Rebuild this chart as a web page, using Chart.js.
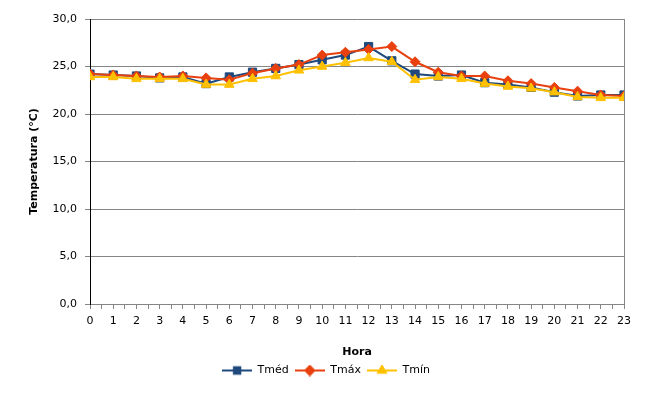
<!DOCTYPE html>
<html lang="pt-BR">
<head>
  <meta charset="utf-8">
  <title>Temperatura por hora</title>
  <script src="https://cdn.jsdelivr.net/npm/chart.js@4.4.1/dist/chart.umd.min.js"></script>
  <style>
    html, body { margin: 0; padding: 0; background: #fff; }
    #holder { width: 666px; height: 403px; }
  </style>
</head>
<body>
  <div id="holder">
    <canvas id="chart" width="666" height="403"></canvas>
  </div>
<script>
  // dados
  var horas = [0, 1, 2, 3, 4, 5, 6, 7, 8, 9, 10, 11, 12, 13, 14, 15, 16, 17, 18, 19, 20, 21, 22, 23];
  var tMed = [24.2, 24.1, 24.0, 23.8, 23.9, 23.2, 23.9, 24.4, 24.8, 25.2, 25.7, 26.2, 27.1, 25.6, 24.2, 24.0, 24.1, 23.3, 23.1, 22.8, 22.3, 21.9, 22.0, 22.0];
  var tMax = [24.2, 24.1, 24.0, 23.9, 24.0, 23.8, 23.6, 24.3, 24.8, 25.2, 26.2, 26.5, 26.8, 27.1, 25.5, 24.4, 24.0, 24.0, 23.5, 23.2, 22.8, 22.4, 22.0, 21.9];
  var tMin = [23.9, 23.9, 23.7, 23.7, 23.7, 23.1, 23.1, 23.7, 24.0, 24.6, 25.0, 25.4, 25.9, 25.5, 23.6, 23.9, 23.7, 23.2, 22.9, 22.7, 22.3, 21.8, 21.7, 21.7];
  var yTicks = [0, 5, 10, 15, 20, 25, 30];

  var nomes = ['Tméd', 'Tmáx', 'Tmín'];
  var cores = ['#1F497D', '#E8400E', '#FFC000'];
  var marcadores = ['rect', 'rectRot', 'triangle'];
  var raios = [5.8, 5, 5.5];

  var fonte = 'DejaVu Sans';
  Chart.defaults.font.family = fonte;
  Chart.defaults.font.size = 11;
  Chart.defaults.color = '#000';

  function pontos(valores) {
    return horas.map(function (h, i) { return { x: h, y: valores[i] }; });
  }

  // icone da legenda: linha com o marcador no meio
  function iconeLegenda(cor, estilo) {
    var c = document.createElement('canvas');
    c.width = 30;
    c.height = 12;
    var g = c.getContext('2d');
    g.strokeStyle = cor;
    g.fillStyle = cor;
    g.lineWidth = 2;
    g.beginPath();
    g.moveTo(0, 6);
    g.lineTo(30, 6);
    g.stroke();
    Chart.helpers.drawPoint(g, { pointStyle: estilo, radius: 4.5, borderWidth: 1 }, 15, 6);
    g.fill();
    return c;
  }
  var icones = cores.map(function (c, i) { return iconeLegenda(c, marcadores[i]); });

  var series = [tMed, tMax, tMin];
  var datasets = series.map(function (s, i) {
    return {
      label: nomes[i],
      data: pontos(s),
      borderColor: cores[i],
      backgroundColor: cores[i],
      borderWidth: 2,
      pointStyle: marcadores[i],
      pointRadius: raios[i],
      pointBorderWidth: 1,
      pointBackgroundColor: cores[i],
      pointBorderColor: cores[i],
      tension: 0,
      order: 3 - i
    };
  });

  var config = {
    type: 'line',
    data: { datasets: datasets },
    options: {
      responsive: false,
      animation: false,
      layout: {
        padding: { left: 28, right: 42, top: 19, bottom: 17 }
      },
      plugins: {
        tooltip: { enabled: false },
        legend: {
          position: 'bottom',
          labels: {
            usePointStyle: true,
            pointStyleWidth: 30,
            padding: 6,
            font: { size: 11 },
            generateLabels: function (chart) {
              var itens = Chart.defaults.plugins.legend.labels.generateLabels(chart);
              itens.sort(function (a, b) { return a.datasetIndex - b.datasetIndex; });
              itens.forEach(function (it) { it.pointStyle = icones[it.datasetIndex]; });
              return itens;
            }
          }
        }
      },
      scales: {
        x: {
          type: 'linear',
          min: 0,
          max: 23,
          afterBuildTicks: function (scale) {
            var t = [];
            for (var v = 0; v <= 23; v += 0.5) t.push({ value: v });
            scale.ticks = t;
          },
          afterFit: function (scale) { scale.height = 55; },
          ticks: {
            autoSkip: false,
            maxRotation: 0,
            padding: 6,
            callback: function (v) { return Number.isInteger(v) ? String(v) : ''; }
          },
          grid: {
            drawOnChartArea: true,
            tickLength: 5,
            color: function (ctx) { return ctx.tick && ctx.tick.value === 23 ? '#868686' : 'rgba(0,0,0,0)'; },
            tickColor: '#868686'
          },
          border: { color: '#868686', width: 1 },
          title: {
            display: true,
            text: 'Hora',
            font: { weight: 'bold', size: 11 },
            padding: { top: 0, bottom: 0 }
          }
        },
        y: {
          min: 0,
          max: 30,
          afterBuildTicks: function (scale) {
            scale.ticks = yTicks.map(function (v) { return { value: v }; });
          },
          afterFit: function (scale) { scale.width = 62; },
          ticks: {
            padding: 8,
            callback: function (v) { return v.toFixed(1).replace('.', ','); }
          },
          grid: {
            color: '#868686',
            tickLength: 5
          },
          border: { color: '#000', width: 1 },
          title: {
            display: true,
            text: 'Temperatura (°C)',
            font: { weight: 'bold', size: 11 },
            padding: { top: 0, bottom: 0 }
          }
        }
      }
    }
  };

  window.onload = function () {
    var ctx = document.getElementById('chart').getContext('2d');
    window.grafico = new Chart(ctx, config);
  };
</script>
</body>
</html>
